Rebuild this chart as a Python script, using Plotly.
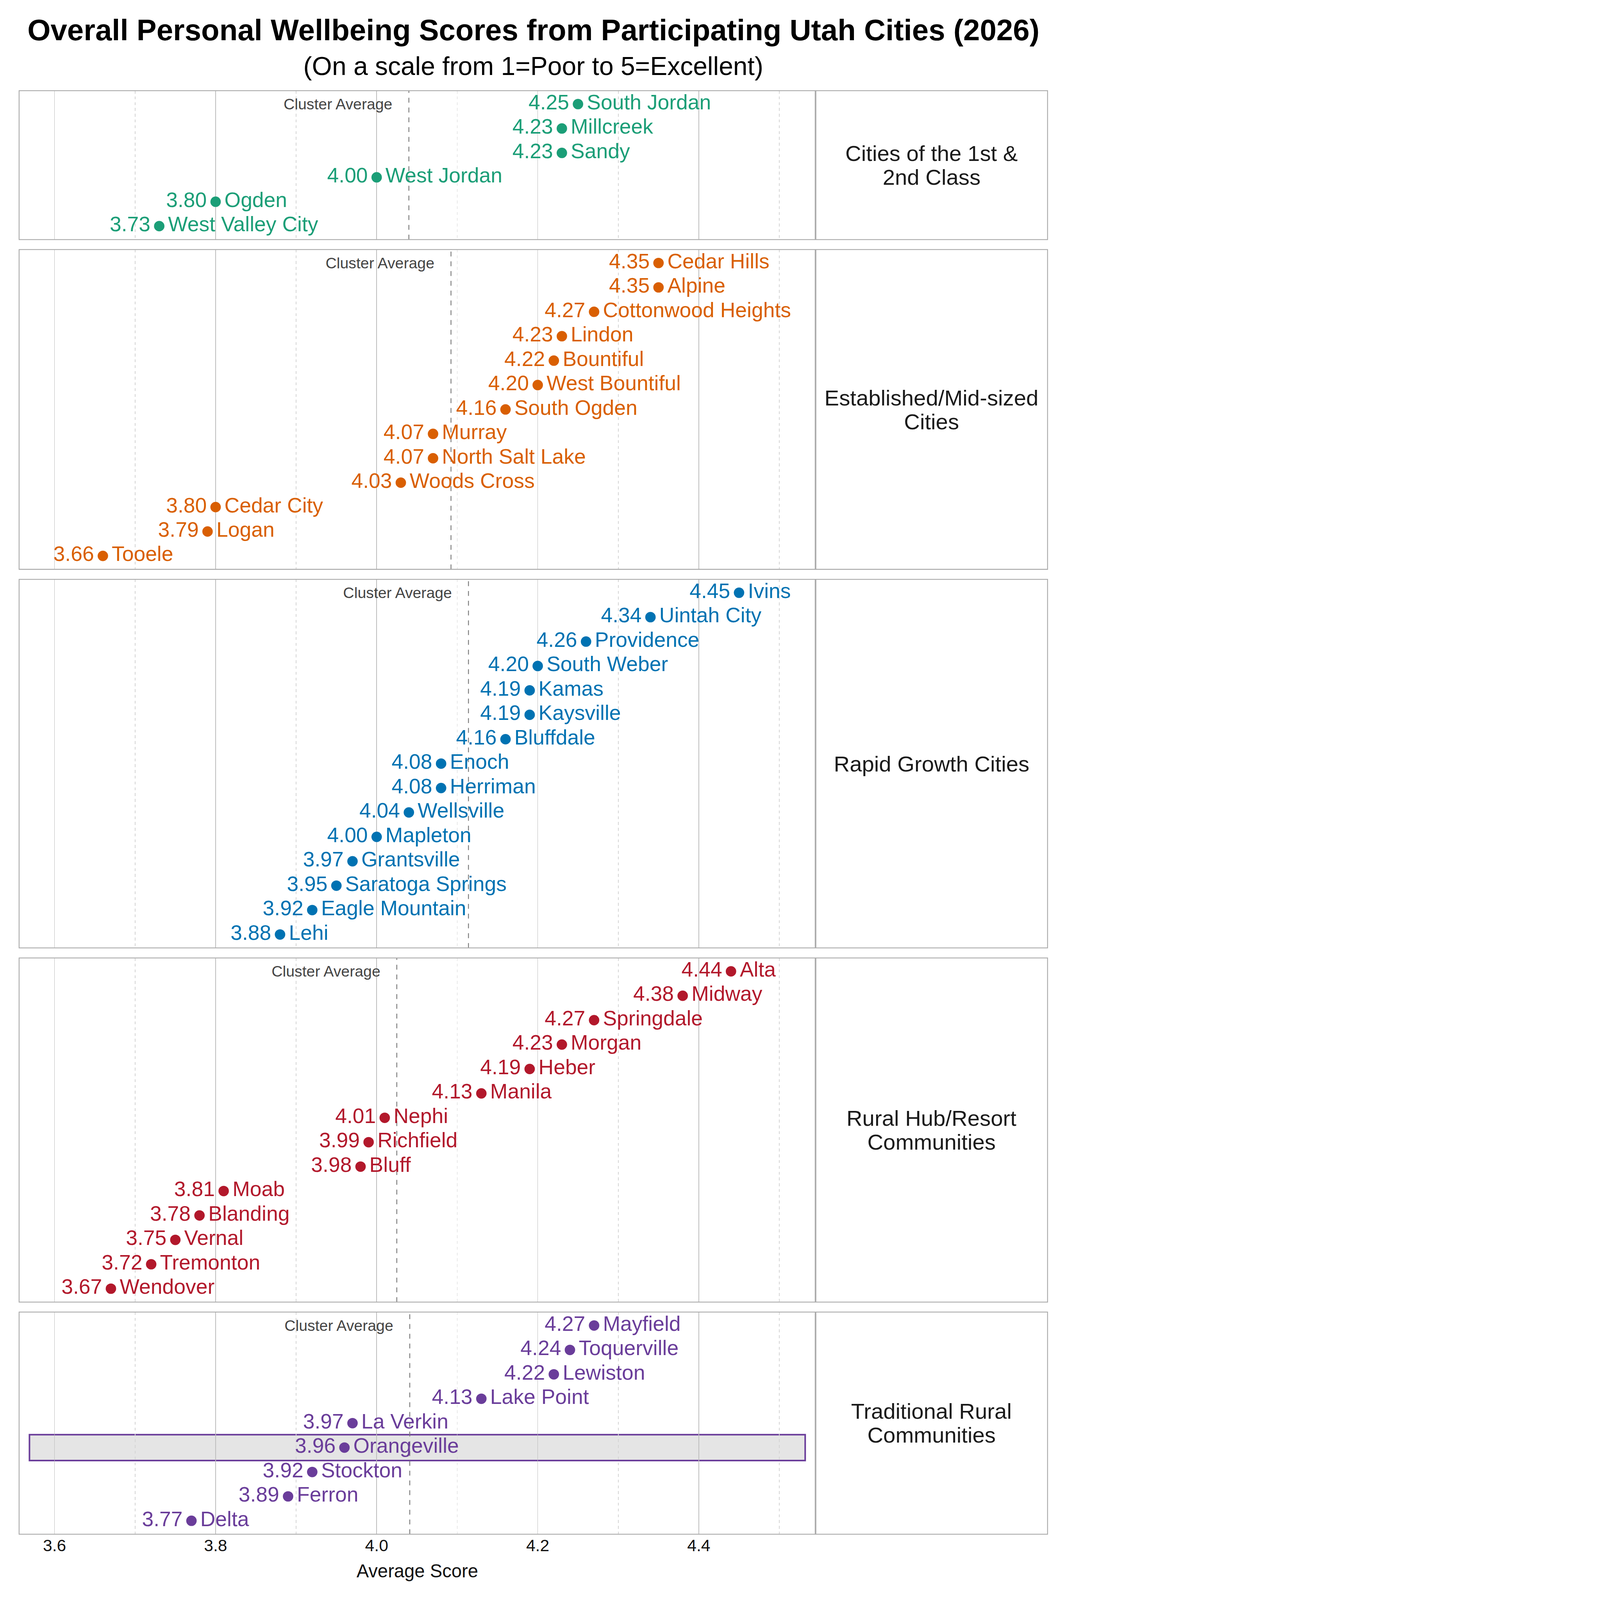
import plotly.graph_objects as go

W, H = 4800, 7200

# ---------------- data ----------------
panel_titles = [
    ["Cities of the 1st &", "2nd Class"],
    ["Established/Mid-sized", "Cities"],
    ["Rapid Growth Cities"],
    ["Rural Hub/Resort", "Communities"],
    ["Traditional Rural", "Communities"],
]

c1_cities = ["South Jordan", "Millcreek", "Sandy", "West Jordan", "Ogden", "West Valley City"]
c1_scores = [4.25, 4.23, 4.23, 4.00, 3.80, 3.73]

c2_cities = ["Cedar Hills", "Alpine", "Cottonwood Heights", "Lindon", "Bountiful", "West Bountiful",
             "South Ogden", "Murray", "North Salt Lake", "Woods Cross", "Cedar City", "Logan", "Tooele"]
c2_scores = [4.35, 4.35, 4.27, 4.23, 4.22, 4.20, 4.16, 4.07, 4.07, 4.03, 3.80, 3.79, 3.66]

c3_cities = ["Ivins", "Uintah City", "Providence", "South Weber", "Kamas", "Kaysville", "Bluffdale",
             "Enoch", "Herriman", "Wellsville", "Mapleton", "Grantsville", "Saratoga Springs",
             "Eagle Mountain", "Lehi"]
c3_scores = [4.45, 4.34, 4.26, 4.20, 4.19, 4.19, 4.16, 4.08, 4.08, 4.04, 4.00, 3.97, 3.95, 3.92, 3.88]

c4_cities = ["Alta", "Midway", "Springdale", "Morgan", "Heber", "Manila", "Nephi", "Richfield",
             "Bluff", "Moab", "Blanding", "Vernal", "Tremonton", "Wendover"]
c4_scores = [4.44, 4.38, 4.27, 4.23, 4.19, 4.13, 4.01, 3.99, 3.98, 3.81, 3.78, 3.75, 3.72, 3.67]

c5_cities = ["Mayfield", "Toquerville", "Lewiston", "Lake Point", "La Verkin", "Orangeville",
             "Stockton", "Ferron", "Delta"]
c5_scores = [4.27, 4.24, 4.22, 4.13, 3.97, 3.96, 3.92, 3.89, 3.77]

highlight_city = "Orangeville"

panel_colors = ["#1b9e77", "#d95f02", "#0072b2", "#b2182b", "#6a3d9a"]

x_tick_vals = [3.6, 3.8, 4.0, 4.2, 4.4]
x_tick_text = ["3.6", "3.8", "4.0", "4.2", "4.4"]

all_cities = [c1_cities, c2_cities, c3_cities, c4_cities, c5_cities]
all_scores = [c1_scores, c2_scores, c3_scores, c4_scores, c5_scores]

# ---------------- layout geometry ----------------
FONT = "Liberation Sans, Arial, sans-serif"
ML, MR, MT, MB = 86, 86, 408, 296
plot_h = H - MT - MB
x_split = 0.7744
x_range = [3.556, 4.545]
gap = 45 / plot_h
pad = 0.55
strip_line_px = 107
units = [len(c) + 2 * pad - 1 for c in all_cities]
unit = (1 - gap * (len(units) - 1)) / sum(units)

domains = []
top = 1.0
for u in units:
    h = u * unit
    domains.append([max(0.0, round(top - h, 6)), min(1.0, round(top, 6))])
    top = top - h - gap

fig = go.Figure()
shapes = []
annotations = []
layout_axes = {}

for k in range(5):
    idx = k + 1
    xa = "x" if idx == 1 else f"x{idx}"
    ya = "y" if idx == 1 else f"y{idx}"
    cities = all_cities[k]
    scores = all_scores[k]
    n = len(cities)
    col = panel_colors[k]
    ypos = list(range(n))
    mean = sum(scores) / n

    # cluster average line
    fig.add_trace(go.Scatter(
        x=[mean, mean], y=[n - 1 + pad, -pad], mode="lines", xaxis=xa, yaxis=ya,
        line=dict(color="#7a7a7a", width=4, dash="22px,22px"), showlegend=False, hoverinfo="skip"))

    # dots
    fig.add_trace(go.Scatter(
        x=scores, y=ypos, mode="markers", xaxis=xa, yaxis=ya,
        marker=dict(size=47, color=col), showlegend=False, hoverinfo="skip"))
    # city names (right of dot)
    fig.add_trace(go.Scatter(
        x=scores, y=ypos, mode="markers+text", xaxis=xa, yaxis=ya,
        text=cities, textposition="middle right",
        textfont=dict(family=FONT, size=94, color=col),
        marker=dict(size=62, color="rgba(0,0,0,0)"), showlegend=False, hoverinfo="skip"))
    # values (left of dot)
    fig.add_trace(go.Scatter(
        x=scores, y=ypos, mode="markers+text", xaxis=xa, yaxis=ya,
        text=[f"{v:.2f}" for v in scores], textposition="middle left",
        textfont=dict(family=FONT, size=94, color=col),
        marker=dict(size=62, color="rgba(0,0,0,0)"), showlegend=False, hoverinfo="skip"))

    annotations.append(dict(text="Cluster Average", xref=xa, yref=ya, x=mean, y=0,
                            xanchor="right", yanchor="middle", xshift=-72, showarrow=False,
                            font=dict(family=FONT, size=69, color="#444444")))

    # highlight
    if highlight_city in cities:
        hi = cities.index(highlight_city)
        shapes.append(dict(type="rect", xref=f"{xa} domain", yref=ya, x0=0.013, x1=0.987,
                           y0=hi - 0.53, y1=hi + 0.53, fillcolor="#e5e5e5",
                           line=dict(color=col, width=7), layer="below"))

    # panel border + divider
    shapes.append(dict(type="rect", xref="paper", yref=f"{ya} domain", x0=0, x1=1, y0=0, y1=1,
                       line=dict(color="#ababab", width=4), fillcolor="rgba(0,0,0,0)", layer="above"))
    shapes.append(dict(type="line", xref="paper", yref=f"{ya} domain", x0=x_split, x1=x_split,
                       y0=0, y1=1, line=dict(color="#ababab", width=7), layer="above"))

    # strip label (one annotation per line for tighter line spacing)
    lines = panel_titles[k]
    nl = len(lines)
    for j, line in enumerate(lines):
        annotations.append(dict(text=line, xref="paper", yref=f"{ya} domain",
                                x=(x_split + 1) / 2, y=0.5, xanchor="center", yanchor="middle",
                                yshift=((nl - 1) / 2 - j) * strip_line_px,
                                showarrow=False, font=dict(family=FONT, size=99, color="#1a1a1a")))

    xname = "xaxis" if idx == 1 else f"xaxis{idx}"
    yname = "yaxis" if idx == 1 else f"yaxis{idx}"
    layout_axes[xname] = dict(
        domain=[0, x_split], range=x_range, anchor=ya,
        tickmode="array", tickvals=x_tick_vals, ticktext=x_tick_text,
        showticklabels=(idx == 5), ticks="",
        tickfont=dict(family=FONT, size=75, color="#111111"),
        showgrid=True, gridcolor="#bdbdbd", gridwidth=3, zeroline=False, showline=False,
        minor=dict(tickmode="linear", tick0=3.5, dtick=0.1, showgrid=True, gridcolor="#d4d4d4",
                   gridwidth=2.5, griddash="13px,13px", ticks=""),
        **({"title": dict(text="Average Score", font=dict(family=FONT, size=83, color="#111111"),
                          standoff=45)} if idx == 5 else {}),
    )
    layout_axes[yname] = dict(
        domain=domains[k], range=[n - 1 + pad, -pad], anchor=xa,
        showticklabels=False, showgrid=False, zeroline=False, showline=False, ticks="")

# titles
annotations.append(dict(text="<b>Overall Personal Wellbeing Scores from Participating Utah Cities (2026)</b>",
                        xref="paper", yref="paper", x=0.5, y=(H - MB - 135) / plot_h,
                        xanchor="center", yanchor="middle", showarrow=False,
                        font=dict(family=FONT, size=134, color="#000000")))
annotations.append(dict(text="(On a scale from 1=Poor to 5=Excellent)",
                        xref="paper", yref="paper", x=0.5, y=(H - MB - 298) / plot_h,
                        xanchor="center", yanchor="middle", showarrow=False,
                        font=dict(family=FONT, size=116, color="#000000")))

fig.update_layout(
    width=W, height=H,
    margin=dict(l=ML, r=MR, t=MT, b=MB),
    paper_bgcolor="white", plot_bgcolor="white",
    font=dict(family=FONT),
    shapes=shapes, annotations=annotations,
    showlegend=False,
    **layout_axes,
)

# keep the whole 4800x7200 figure visible even if the viewport is smaller
fit_js = """
(function(){
  var gd = document.getElementById('{plot_id}');
  function fit(){
    document.documentElement.style.margin = '0';
    document.documentElement.style.overflow = 'hidden';
    document.body.style.margin = '0';
    document.body.style.overflow = 'hidden';
    var s = Math.min(window.innerWidth / %d, window.innerHeight / %d, 1);
    gd.style.transformOrigin = '0 0';
    gd.style.transform = 'scale(' + s + ')';
  }
  fit();
  window.addEventListener('resize', fit);
})();
""" % (W, H)

fig.write_html("out.html", post_script=fit_js, config={"displayModeBar": False})
